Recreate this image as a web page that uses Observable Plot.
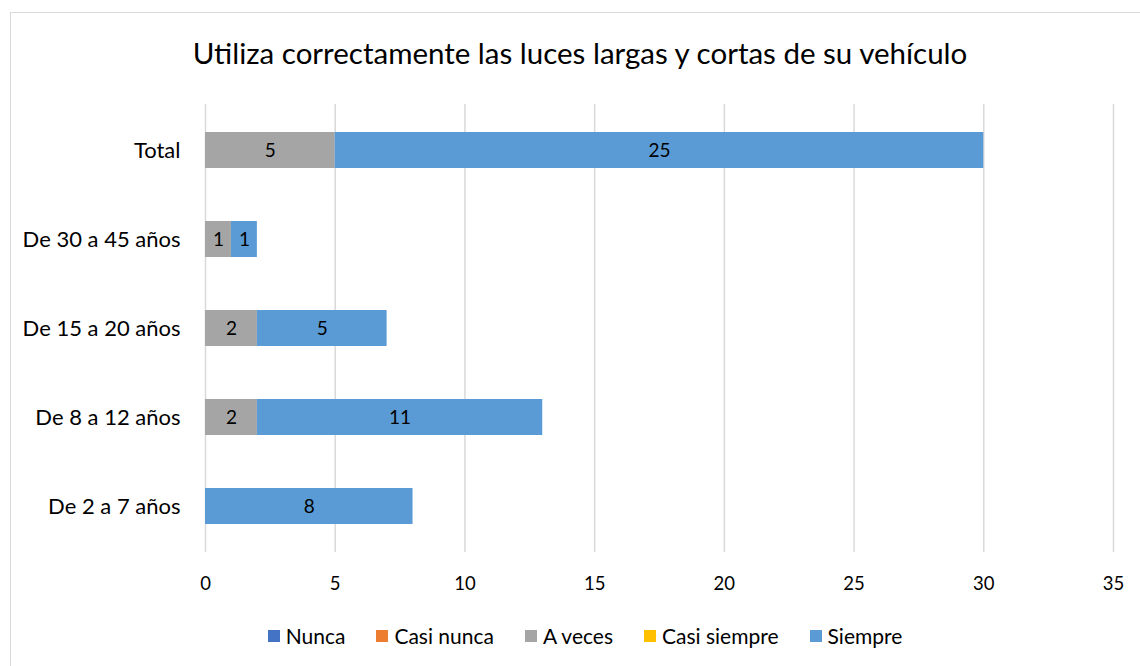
<!DOCTYPE html>
<html><head><meta charset="utf-8">
<script src="https://cdn.jsdelivr.net/npm/d3@7"></script>
<script src="https://cdn.jsdelivr.net/npm/@observablehq/plot@0.6"></script>
<style>
body{margin:0;background:#fff;font-family:Lato,"Open Sans",sans-serif;}
#wrap{position:relative;width:1140px;height:666px;overflow:hidden;}
#frame{position:absolute;left:10px;top:12px;width:1160px;height:660px;border:1px solid #d9d9d9;box-sizing:border-box;}
#title{position:absolute;left:0;top:35px;width:1160px;text-align:center;font-size:29.5px;color:#000;}
#chart{position:absolute;left:0;top:0;}
#legend{position:absolute;left:0;top:623px;width:1170px;display:flex;justify-content:center;gap:0 31px;font-size:21px;color:#000;}
#legend span.item{display:flex;align-items:center;}
#legend span.sw{display:inline-block;width:12px;height:12px;margin-right:6px;}
</style></head>
<body>
<div id="wrap">
<div id="frame"></div>
<div id="chart"></div>
<div id="title"></div>
<div id="legend"></div>
</div>
<script>
const title = "Utiliza correctamente las luces largas y cortas de su vehículo";
const categories = ["Total", "De 30 a 45 años", "De 15 a 20 años", "De 8 a 12 años", "De 2 a 7 años"];
const series = ["Nunca", "Casi nunca", "A veces", "Casi siempre", "Siempre"];
const colors = ["#4472C4", "#ED7D31", "#A5A5A5", "#FFC000", "#5B9BD5"];
const nunca       = [0, 0, 0, 0, 0];
const casiNunca   = [0, 0, 0, 0, 0];
const aVeces      = [5, 1, 2, 2, 0];
const casiSiempre = [0, 0, 0, 0, 0];
const siempre     = [25, 1, 5, 11, 8];
const xTicks = [0, 5, 10, 15, 20, 25, 30, 35];

const valuesBySeries = [nunca, casiNunca, aVeces, casiSiempre, siempre];
const data = [];
series.forEach((s, i) => categories.forEach((c, j) => data.push({cat: c, series: s, value: valuesBySeries[i][j]})));

document.getElementById("title").textContent = title;

const plot = Plot.plot({
  width: 1140, height: 600,
  marginLeft: 205, marginRight: 27, marginTop: 104, marginBottom: 48,
  style: {background: "transparent", fontFamily: "Lato, 'Open Sans', sans-serif", fontSize: "18.5px", color: "#000"},
  x: {domain: [0, 35], ticks: xTicks, tickSize: 0, tickPadding: 24, label: null},
  y: {domain: categories, paddingInner: 0.6, paddingOuter: 0.3, label: null},
  color: {domain: series, range: colors},
  marks: [
    Plot.ruleX(xTicks, {stroke: "#d9d9d9", strokeWidth: 1.5}),
    Plot.barX(data, Plot.stackX({x: "value", y: "cat", fill: "series", order: series})),
    Plot.text(data, Plot.stackX({filter: d => d.value > 0, x: "value", y: "cat", z: "series", text: d => String(d.value), order: series, fill: "#000", fontSize: 19})),
    Plot.axisY({tickSize: 0, tickPadding: 25, fontSize: 22})
  ]
});
document.getElementById("chart").appendChild(plot);

const lg = document.getElementById("legend");
series.forEach((s, i) => {
  const it = document.createElement("span"); it.className = "item";
  const sw = document.createElement("span"); sw.className = "sw"; sw.style.background = colors[i];
  it.appendChild(sw); it.appendChild(document.createTextNode(s)); lg.appendChild(it);
});
</script>
</body></html>
